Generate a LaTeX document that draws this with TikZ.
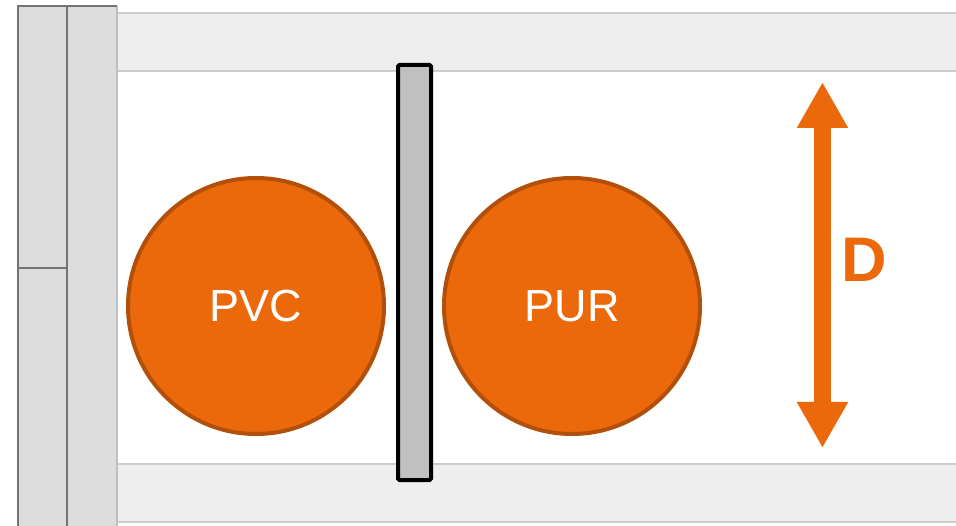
\documentclass[tikz,border=0pt]{standalone}
\usepackage{fontspec}
\setmainfont{Liberation Sans}
\usetikzlibrary{arrows.meta}
\definecolor{pipeor}{HTML}{EB690A}
\definecolor{pipeedge}{HTML}{B24F0A}
\definecolor{postgray}{HTML}{DDDDDD}
\definecolor{railgray}{HTML}{EEEEEE}
\definecolor{plategray}{HTML}{C0C0C0}
\tikzset{
	pipe/.style={circle, fill=pipeor, draw=pipeedge, line width=4pt, minimum size=256pt, inner sep=0pt,
		text=white, font=\fontsize{45}{45}\selectfont},
	rail/.style={fill=railgray, draw=black!20, line width=1.2pt},
}
\begin{document}
\begin{tikzpicture}[x=1pt,y=-1pt]
	\useasboundingbox (0,0) rectangle (956,526);
	\pgfmathsetmacro{\Ytop}{71}
	\pgfmathsetmacro{\Ybot}{464}
	% rails
	\filldraw[rail] (117,13) rectangle (960,\Ytop);
	\filldraw[rail] (117,\Ybot) rectangle (960,522);
	% post
	\fill[postgray] (18,6) rectangle (117,530);
	\draw[black!25, line width=1.5pt] (117,6) -- (117,530);
	\draw[black!55, line width=1.5pt] (18,530) |- (117,6);
	\draw[black!55, line width=1.5pt] (67,6) -- (67,530);
	\draw[black!55, line width=1.5pt] (18,268) -- (67,268);
	% plate
	\filldraw[fill=plategray, draw=black, line width=4pt, rounded corners=1.5pt] (398,65) rectangle (431,480);
	% pipes
	\node[pipe] (pvc) at (256,306) {PVC};
	\node[pipe] (pur) at (572,306) {PUR};
	% dimension
	\coordinate (dtop) at (822.5,82);
	\coordinate (dbot) at (822.5,448);
	\draw[pipeor, line width=17pt, {Triangle[length=46pt,width=48pt]}-{Triangle[length=46pt,width=48pt]}] (dtop) -- (dbot);
	\node[text=pipeor, font=\fontsize{63}{63}\selectfont\bfseries, inner sep=0pt] (dlab) at (864.5,260) {D};
\end{tikzpicture}
\end{document}
